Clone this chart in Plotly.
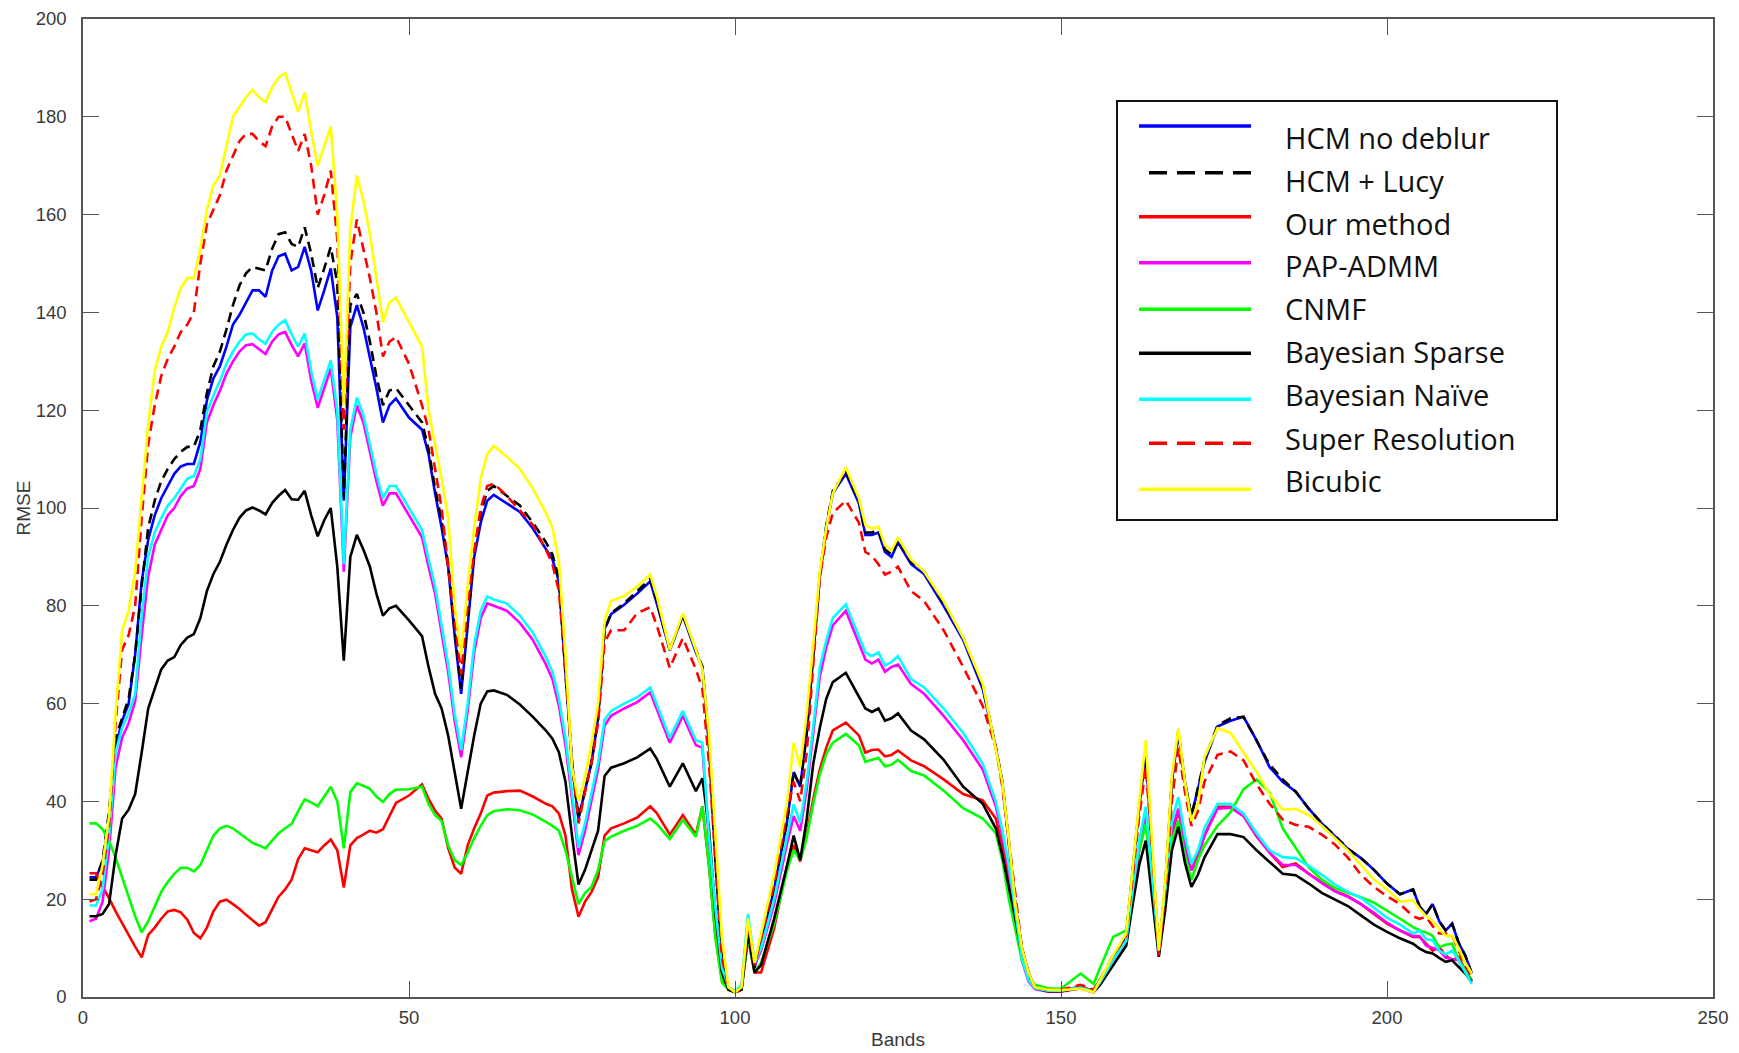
import plotly.graph_objects as go

# ---------------- data ----------------
BANDS = [
    1, 2, 3, 4, 5, 6, 7, 8, 9, 10, 11, 12,
    13, 14, 15, 16, 17, 18, 19, 20, 21, 22, 23, 24,
    25, 26, 27, 28, 29, 30, 31, 32, 33, 34, 35, 36,
    37, 38, 39, 40, 41, 42, 43, 44, 45, 46, 47, 48,
    50, 52, 53, 54, 55, 56, 57, 58, 59, 60, 61, 62,
    63, 65, 67, 69, 71, 72, 73, 74, 75, 76, 77, 78,
    79, 80, 81, 83, 85, 87, 88, 90, 92, 94, 95, 96,
    97, 98, 99, 100, 101, 102, 103, 104, 106, 108, 109, 110,
    111, 112, 113, 114, 115, 117, 119, 120, 121, 122, 123, 124,
    125, 127, 129, 132, 135, 138, 140, 141, 142, 143, 144, 145,
    146, 148, 150, 153, 155, 156, 158, 160, 161, 162, 163, 164,
    165, 166, 167, 168, 169, 170, 171, 172, 174, 176, 178, 180,
    182, 184, 186, 188, 190, 192, 194, 196, 198, 200, 202, 204,
    205, 206, 207, 208, 209, 210, 211, 212, 213,
]

HCM_NO_DEBLUR = [
    24.5, 24.5, 27.5, 36, 51, 56.5, 60, 70, 85, 93.5, 98.5, 102,
    104.5, 107, 108.5, 109, 109, 113.5, 122, 126.5, 129, 133, 137.5, 139.5,
    142, 144.5, 144.5, 143.2, 148.5, 151.5, 152, 148.6, 149.3, 153.4, 148.5, 140.4,
    144.5, 149, 139, 101.5, 137, 141.5, 137, 131, 124.5, 117.5, 121, 122.4,
    118.5, 116, 111, 103, 96, 88, 74, 62, 76, 90, 97, 101.5,
    102.7, 101, 99.2, 95.8, 91.5, 89.5, 85, 66, 48, 36.5, 42, 48,
    57, 75.3, 78.3, 80.2, 82.5, 85, 80.5, 70.9, 78, 70.5, 67.5, 52,
    28, 8, 1.5, 1, 1.5, 15, 6, 11, 22, 36, 46, 43,
    54, 70, 86, 96, 103, 107, 101, 94.5, 94.5, 95, 91, 90,
    93, 88.5, 86.5, 80, 73, 63, 51, 44, 32, 19, 10, 5,
    2, 1.5, 1.4, 2, 1.3, 3.5, 8, 12.5, 26, 39, 49.8, 30,
    8.9, 23, 44, 54, 44, 37, 42.5, 48, 55.3, 56.5, 57.3, 52.5,
    47, 44, 42, 38.5, 35.5, 33, 30.3, 28.4, 26, 23.2, 21, 22,
    18.5, 17, 19, 15.5, 13.6, 15, 11, 8.5, 4.8,
]

HCM_LUCY = [
    24, 24, 28, 38, 53, 57, 61, 70, 84, 96, 101.5, 105.5,
    108, 110, 111.5, 112.5, 112.5, 116, 123.5, 129, 132, 136.5, 141.5, 145.5,
    148, 149.3, 149, 148.6, 153, 156, 156.4, 154, 153.4, 157.4, 152, 145,
    149, 153.4, 146, 102, 141.5, 143.8, 140, 134, 127, 121, 124, 124.5,
    121, 117.5, 112, 104, 97.5, 88.5, 75, 63, 77, 91, 99, 103.5,
    104.5, 102.5, 100.5, 97, 93, 90.5, 85.5, 66, 48, 36.5, 42, 48,
    57, 75, 78.5, 80.5, 83, 85.5, 81, 71, 78, 71, 67.5, 52,
    28, 8, 1.5, 1, 1.5, 15, 6, 11, 22, 36, 46, 43,
    54, 70, 86, 96.5, 103.5, 107.5, 101.5, 95, 95, 95.5, 91.5, 90.5,
    93.5, 89, 87, 80.5, 73.5, 63.5, 51, 44, 32, 19, 10, 5,
    2, 1.5, 1.4, 2, 1.3, 3.5, 8, 12.5, 26, 39, 50, 30,
    8.9, 23, 44, 54.5, 44, 37, 42.5, 48.5, 55.5, 57, 57.3, 52.5,
    47.5, 44.5, 42, 38.5, 35.5, 33, 30.3, 28.4, 26, 23.2, 21, 22,
    18.5, 17, 19, 15.5, 13.6, 15, 11, 8.5, 4.8,
]

OUR_METHOD = [
    25.3, 25.3, 22.5, 20.2, 17.5, 15, 12.5, 10.3, 8.1, 12.7, 14.2, 16,
    17.5, 17.8, 17.3, 15.8, 13.1, 12, 14.2, 17.5, 19.5, 19.9, 19, 18,
    16.8, 15.6, 14.6, 15.3, 18, 20.5, 22, 24, 28.2, 30.4, 30, 29.6,
    31, 32.2, 30, 22.4, 31, 32.5, 33.2, 34, 33.6, 34.3, 37, 39.7,
    41.2, 43.5, 40.5, 38.1, 36.5, 30.5, 26.5, 25.2, 31, 34.5, 37.5, 41.2,
    41.8, 42.1, 42.2, 41, 39.5, 39, 37.5, 33, 22, 16.4, 19.5, 21.5,
    24.5, 33, 34.5, 35.5, 36.7, 39, 37.6, 33.2, 37.2, 33.2, 39, 27,
    12.4, 3.5, 1.5, 1, 1.5, 12, 5, 5, 14, 27, 31.1, 27.7,
    33.3, 40.5, 46.5, 51, 54.5, 56.1, 53.5, 50, 50.5, 50.6, 49.2, 49.5,
    50.4, 48.4, 47.2, 44.5, 41.5, 40.2, 36.5, 31, 23.5, 16.5, 9, 4.2,
    2, 1.3, 1.2, 2.2, 1.2, 3, 7.5, 11.5, 21, 30, 36.1, 23,
    9.5, 20, 33, 38.2, 31, 25.9, 29, 33, 38.9, 38.9, 37, 32.8,
    29.5, 26.6, 27.3, 25.2, 23.4, 21.7, 20.6, 19, 17, 15, 13.6, 12.3,
    12.3, 11, 9.5, 10.2, 8.5, 7.5, 8.2, 5.5, 3.4,
]

PAP_ADMM = [
    15.5, 16, 19.5, 30, 47, 53, 56, 60.5, 74, 86, 92.5, 95.5,
    98.5, 100, 102.5, 104, 104.5, 108, 117.5, 121, 124, 127.5, 130, 132,
    133.3, 133.5, 132.5, 131.5, 134, 135.5, 136, 133.3, 131, 133.7, 126, 120.5,
    124.5, 128.5, 118, 87, 114.5, 121, 117.5, 111.5, 105.5, 100.5, 103, 103,
    98.5, 94, 88, 82.5, 74.5, 66.5, 56.5, 49, 58.5, 70.5, 77.5, 80.5,
    80, 79, 76.5, 73, 68, 65, 59.5, 51.5, 40.5, 29, 34, 40.5,
    46.5, 55.5, 57.5, 59, 60.3, 62.3, 59, 52, 57.5, 51.5, 51, 32,
    17, 5.5, 1.8, 1.1, 2, 16, 6.5, 9.5, 19, 31.5, 37, 34,
    42.5, 54, 65.5, 71.5, 76, 79, 72.5, 69, 68.2, 69, 66.5, 67.5,
    68, 64, 62, 57.5, 52.5, 46.5, 39, 33, 26, 16.5, 7.5, 3.2,
    1.6, 1.1, 1.1, 1.8, 0.9, 2.5, 7, 11, 21, 30.5, 37, 24,
    9, 21, 34, 38.5, 31, 25.9, 28.5, 33, 38.5, 38.7, 37, 33,
    29.5, 27, 27, 25.2, 23.3, 21.6, 20.5, 19, 17.2, 15.2, 13.6, 12.5,
    12.4, 10.5, 10, 9.6, 8, 7.8, 7.5, 5, 3.2,
]

CNMF = [
    35.5, 35.5, 34.3, 32, 28.5, 24.5, 20.5, 16.5, 13.2, 15.5, 18.5, 21.5,
    23.5, 25.2, 26.4, 26.4, 25.7, 27, 30, 33, 34.5, 35, 34.5, 33.5,
    32.5, 31.5, 31, 30.4, 32, 33.5, 34.5, 35.4, 38, 40.4, 39.8, 39,
    41, 43, 40, 30.4, 41.9, 43.7, 43.2, 42.6, 41, 39.9, 41.5, 42.4,
    42.5, 43, 39.5, 37.2, 36, 31, 28, 27, 29.5, 32.5, 35, 37.2,
    38, 38.4, 38.2, 37.3, 35.8, 35, 34, 30, 24.5, 19, 21.3, 22.5,
    26, 31.9, 32.8, 34, 35, 36.5, 35.4, 32.3, 36.2, 32.8, 39, 27,
    12, 3, 1.5, 1, 1.5, 12, 5, 7, 15, 26, 30, 28,
    32.6, 39.5, 45.5, 49.7, 52, 53.8, 51.5, 48.1, 48.5, 48.9, 47.2, 47.5,
    48.5, 46.2, 45.3, 42.2, 38.6, 36.5, 33.5, 28, 20, 14, 7.5, 4.2,
    2.5, 1.8, 1.7, 4.8, 2.7, 6, 12.3, 13.6, 24, 30, 35.4, 22,
    9.5, 20, 32, 36.1, 29, 23.9, 28, 31, 35, 37.8, 42.5, 44.5,
    41.8, 34.5, 30.5, 26.5, 24, 22.3, 21.3, 20.4, 19.3, 17.7, 16, 14.3,
    13.6, 13.2, 12.5, 10.2, 10.7, 10.9, 7.5, 5.5, 3.4,
]

BAYESIAN_SPARSE = [
    16.5, 16.5, 17, 19, 29, 36.5, 38.3, 41.5, 50, 59, 63, 67,
    68.8, 69.5, 72, 73.5, 74.2, 77.5, 83, 86.5, 89, 92.5, 95.5, 98,
    99.5, 100.1, 99.5, 98.7, 101, 102.5, 103.7, 101.8, 101.7, 103.5, 98.5, 94.2,
    97.5, 100, 88, 68.8, 90, 94.5, 91.5, 88, 82.5, 78, 79.5, 80,
    77, 73.8, 67.5, 62, 59, 53.5, 46, 38.5, 46, 53.5, 60, 62.5,
    62.7, 61.8, 59.8, 57.3, 54.5, 52.8, 50, 44, 33, 23, 26, 30,
    34, 45.2, 46.9, 47.8, 49, 50.8, 48.7, 43, 47.8, 42.1, 44.7, 34.5,
    17, 5, 1.5, 1, 1.5, 13, 5, 6.5, 16, 27, 33, 28,
    36.4, 47.7, 55, 61, 64.4, 66.3, 61.5, 59, 58.3, 59, 56.5, 57,
    58, 54.5, 52.7, 48.5, 43, 39.5, 34.5, 29, 22.5, 16, 8.5, 4.2,
    1.8, 1.2, 1.2, 1.8, 1.1, 2.5, 6.5, 10.5, 19, 27, 32, 20,
    8.2, 18, 30, 34.8, 27.5, 22.5, 25, 28.5, 33.3, 33.3, 32.7, 30,
    27.5, 25.2, 24.9, 23.2, 21.3, 19.9, 18.6, 16.7, 14.8, 13.3, 12, 10.9,
    9.9, 9.2, 8.9, 8, 7.2, 7.5, 6.2, 4.8, 3.1,
]

BAYESIAN_NAIVE = [
    18.7, 18.7, 22, 33, 50, 55, 58, 62, 78, 90, 95, 98,
    100.5, 102, 104, 106, 106.5, 110, 119.5, 123, 126, 129.5, 132, 134,
    135.5, 135.7, 134.5, 133.6, 136, 137.5, 138.4, 135.5, 133, 135.7, 128, 122.2,
    126.2, 130.2, 120, 88.5, 116, 122.6, 119, 113, 107, 102, 104.5, 104.5,
    100, 95.5, 89.5, 84, 76, 68, 58, 50.5, 60, 72, 79, 81.9,
    81.3, 80.5, 78, 74.5, 69.5, 66.5, 61, 53, 42, 30.5, 35.5, 42,
    48, 56.7, 58.5, 60, 61.3, 63.3, 60, 53, 58.5, 52.5, 52, 33,
    18, 6, 2, 1.2, 2.5, 17, 7, 10, 20, 32.5, 39.4, 35.6,
    44, 55.3, 67.4, 73, 77.5, 80.3, 74, 70.5, 69.7, 70.5, 67.8, 68.5,
    69.7, 65, 63.3, 59, 54, 47.7, 40, 34.1, 27, 17, 8, 3.5,
    1.8, 1.3, 1.3, 2, 1.2, 3, 7.5, 11.5, 22, 32, 38.9, 25,
    9.5, 22, 36, 40.9, 33, 27.3, 30, 34.5, 39.5, 39.5, 37.5, 33.5,
    30, 28.6, 28.4, 26.8, 25, 23, 21.5, 20.3, 18.3, 16.2, 14.8, 13,
    13.6, 11.8, 11.6, 9.5, 8.7, 9.5, 7.5, 5, 2.7,
]

SUPER_RESOLUTION = [
    19.5, 20, 25, 35, 56, 71, 74, 80, 98, 113, 121, 127,
    130.5, 133, 136, 137.5, 140, 150, 158, 161, 164, 169, 172, 175,
    176.5, 176.5, 175, 174, 178, 180, 180, 176.5, 173, 176.5, 170, 160,
    164, 169, 155, 116, 150, 159, 153, 147, 140, 131, 134, 135,
    129.5, 121, 116, 108, 100, 88, 77, 66, 80, 91, 100, 104.5,
    105, 102.5, 99.5, 96.5, 91.5, 88.5, 83, 67, 48, 35.5, 42, 48,
    56, 72.6, 75, 75, 78.5, 79.7, 76, 67.3, 73.4, 67, 63, 48,
    28, 8, 2, 1, 1.5, 15, 6.5, 12, 23, 38, 44, 40,
    50, 68, 85.6, 94, 99, 101.5, 97, 91, 90.2, 88.5, 86.4, 87,
    88, 83, 81, 75, 67.5, 59.5, 51, 43, 32, 20, 10, 5,
    2, 1.5, 1.5, 2.5, 1.5, 3.5, 8.5, 12.5, 25, 37, 47, 30,
    8.5, 22, 40, 51, 42, 35, 38, 44, 49.5, 50.2, 48.4, 43.5,
    39.5, 36.3, 35.2, 34.8, 33.2, 31.2, 28.5, 25, 22.5, 20.6, 19, 16.5,
    16, 16.4, 14.5, 13, 13, 12.5, 9.5, 6.5, 4.1,
]

BICUBIC = [
    21, 21, 27, 37, 58, 75, 79, 87, 102, 117, 128, 133,
    136, 141, 145, 147, 147, 153, 161, 166, 168, 174, 180, 182,
    184, 185.5, 184, 183, 186, 188, 189, 185, 181, 185, 177, 170,
    174, 178, 160, 121, 157, 168, 163, 156, 147, 138, 142, 143,
    138, 133, 120, 113, 106, 98, 80, 70, 84, 96, 106, 111,
    112.7, 110.5, 108, 104, 99, 96, 89, 70, 47, 40, 45, 52,
    60, 77, 81, 82, 84, 86.4, 82, 71, 78.5, 71, 67, 54,
    33, 12, 2, 1, 2, 16, 7, 13, 25, 40, 52, 47,
    58, 72, 87, 96, 103, 108.3, 102, 96.5, 95.8, 96.2, 92.4, 91.3,
    94, 89.5, 87, 81, 73.5, 64, 51, 44, 32, 19, 10, 5,
    2, 1.5, 1.4, 1.7, 1, 3.5, 8.5, 13, 27, 40, 52.5, 32,
    9.5, 24, 45, 55, 44, 36, 39.5, 49, 55, 54, 50, 46,
    41.5, 38.3, 38.5, 37.2, 35, 32.5, 30, 27, 24, 22, 19.5, 19.8,
    18, 16.5, 15.6, 14, 12.5, 12.5, 10, 7, 4.8,
]

SERIES_NAMES = ["HCM no deblur", "HCM + Lucy", "Our method", "PAP-ADMM", "CNMF",
                "Bayesian Sparse", "Bayesian Naïve", "Super Resolution", "Bicubic"]
SERIES_VALUES = [HCM_NO_DEBLUR, HCM_LUCY, OUR_METHOD, PAP_ADMM, CNMF,
                 BAYESIAN_SPARSE, BAYESIAN_NAIVE, SUPER_RESOLUTION, BICUBIC]

X_TICKS = [0, 50, 100, 150, 200, 250]
Y_TICKS = [0, 20, 40, 60, 80, 100, 120, 140, 160, 180, 200]

# ---------------- styles ----------------
COLORS = ["#0000FF", "#000000", "#FF0000", "#FF00FF", "#00FF00",
          "#000000", "#00FFFF", "#FF0000", "#FFFF00"]
DASHES = ["solid", "10px,6px", "solid", "solid", "solid",
          "solid", "solid", "10px,6px", "solid"]

for name, vals in zip(SERIES_NAMES, SERIES_VALUES):
    assert len(vals) == len(BANDS), (name, len(vals), len(BANDS))

W, H = 1739, 1053
ML, MR, MT, MB = 83, 26, 19, 56
PW, PH = W - ML - MR, H - MT - MB


def px(x):
    return (x - ML) / PW


def py(y):
    return (H - MB - y) / PH


fig = go.Figure()
for name, vals, col, dash in zip(SERIES_NAMES, SERIES_VALUES, COLORS, DASHES):
    fig.add_trace(go.Scatter(
        x=BANDS, y=vals, mode="lines", name=name, showlegend=False,
        line=dict(color=col, width=2.6, dash=dash),
    ))

TICK_FONT = dict(family="Liberation Sans Narrow, Arial Narrow, Liberation Sans, Arial",
                 size=18.5, color="#3a3a3a")
AX_COLOR = "#555555"

fig.update_xaxes(
    range=[0, 250], tickvals=X_TICKS, ticktext=[str(t) for t in X_TICKS],
    showline=True, linecolor=AX_COLOR, linewidth=1.5, mirror="ticks",
    ticks="inside", ticklen=16, tickwidth=1.2, tickcolor=AX_COLOR,
    showgrid=False, zeroline=False, tickfont=TICK_FONT, ticklabelstandoff=3,
    automargin=False,
    title=dict(text="Bands", font=dict(family=TICK_FONT["family"], size=19, color="#3a3a3a"),
               standoff=6),
)
fig.update_yaxes(
    range=[0, 200], tickvals=Y_TICKS, ticktext=[str(t) for t in Y_TICKS],
    showline=True, linecolor=AX_COLOR, linewidth=1.5, mirror="ticks",
    ticks="inside", ticklen=16, tickwidth=1.2, tickcolor=AX_COLOR,
    showgrid=False, zeroline=False, tickfont=TICK_FONT, ticklabelstandoff=11,
    automargin=False,
    title=dict(text="RMSE", font=dict(family=TICK_FONT["family"], size=19, color="#3a3a3a"),
               standoff=0),
)

# ---------------- legend drawn as a boxed panel ----------------
shapes = [dict(type="rect", xref="paper", yref="paper",
               x0=px(1117), x1=px(1557), y0=py(520), y1=py(101),
               line=dict(color="#111111", width=2), fillcolor="white", layer="above")]
annotations = []
LINE_ROWS = [126, 172.7, 216.7, 262.7, 309.3, 353.3, 399.3, 443.3, 489.3]
TEXT_ROWS = [137, 180, 223, 265, 308, 351, 394, 438, 480]
for i, (name, col, dash) in enumerate(zip(SERIES_NAMES, COLORS, DASHES)):
    x_start = 1149 if dash != "solid" else 1139
    shapes.append(dict(type="line", xref="paper", yref="paper",
                       x0=px(x_start), x1=px(1251), y0=py(LINE_ROWS[i]), y1=py(LINE_ROWS[i]),
                       line=dict(color=col, width=3.5, dash="18px,10px" if dash != "solid" else "solid"),
                       layer="above"))
    annotations.append(dict(xref="paper", yref="paper", x=px(1283), y=py(TEXT_ROWS[i]),
                            text=name, showarrow=False, xanchor="left", yanchor="middle",
                            font=dict(family="Open Sans, Lato, sans-serif", size=29, color="#111111")))

fig.update_layout(
    width=W, height=H, autosize=False,
    margin=dict(l=ML, r=MR, t=MT, b=MB),
    paper_bgcolor="white", plot_bgcolor="white",
    shapes=shapes, annotations=annotations,
    showlegend=False,
)

fig.write_html(
    "out.html",
    config={"displayModeBar": False},
    post_script="document.body.style.margin='0px';document.body.style.overflow='hidden';",
)
